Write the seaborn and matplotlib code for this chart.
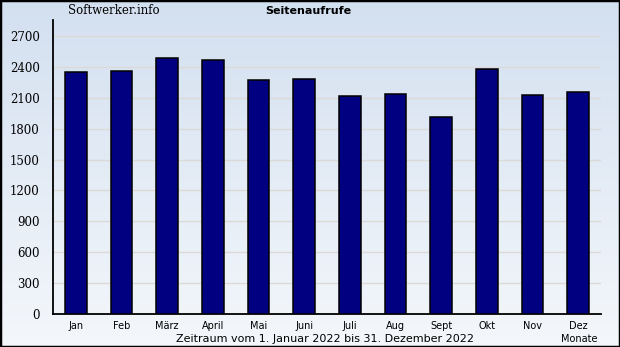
import numpy as np
import pandas as pd
import matplotlib
matplotlib.use("Agg")
import matplotlib.pyplot as plt
from matplotlib.patches import Rectangle
import seaborn as sns

months = ["Jan", "Feb", "März", "April", "Mai", "Juni", "Juli", "Aug", "Sept", "Okt", "Nov", "Dez"]
views = [2347, 2360, 2486, 2467, 2273, 2282, 2117, 2137, 1913, 2380, 2127, 2156]
yticks = [0, 300, 600, 900, 1200, 1500, 1800, 2100, 2400, 2700]

sns.set_style("white")
plt.rcParams["text.color"] = "black"
plt.rcParams["xtick.color"] = "black"
plt.rcParams["ytick.color"] = "black"
plt.rcParams["xtick.labelcolor"] = "black"
plt.rcParams["ytick.labelcolor"] = "black"
df = pd.DataFrame({"Monat": months, "Aufrufe": views})

fig = plt.figure(figsize=(6.2, 3.47), dpi=100)

# background gradient
bg = fig.add_axes([0, 0, 1, 1], zorder=-10)
grad = np.linspace(0, 1, 256).reshape(-1, 1)
top = np.array([211, 224, 240]) / 255
bot = np.array([244, 247, 251]) / 255
img = top[None, None, :] * (1 - grad[:, :, None]) + bot[None, None, :] * grad[:, :, None]
bg.imshow(img, aspect="auto", extent=[0, 1, 0, 1])
bg.set_axis_off()
fig.patches.append(Rectangle((0, 0), 1, 1, transform=fig.transFigure, fill=False,
                             edgecolor="black", linewidth=2.5, zorder=100))

ax = fig.add_axes([53 / 620, 1 - 314 / 347, 548 / 620, 294 / 347])
ax.patch.set_alpha(0)
sns.barplot(data=df, x="Monat", y="Aufrufe", ax=ax, color="#000080", saturation=1,
            edgecolor="black", linewidth=1.1, width=0.47, zorder=3)
ax.set_xlim(-0.5, 11.5)
ax.set_ylim(0, 2855)
ax.set_yticks(yticks)
ax.set_yticklabels([str(v) for v in yticks], family="DejaVu Serif", fontsize=8.5, color="black")
ax.set_yticks(np.arange(150, 2855, 300), minor=True)
ax.set_xticks(range(12))
ax.set_xticklabels(months, fontsize=7, family="DejaVu Sans", color="black")
ax.set_xticks(np.arange(0.5, 12, 1), minor=True)
ax.tick_params(axis="x", which="major", length=0, pad=5)
ax.tick_params(axis="x", which="minor", length=4, direction="in", width=1, color="black")
ax.tick_params(axis="y", which="both", length=6, direction="out", width=1, color="black")
ax.tick_params(axis="y", which="minor", length=4)
ax.set_xlabel("")
ax.set_ylabel("")
for v in yticks[1:]:
    ax.axhline(v, color="#dcdad6", linewidth=1, zorder=1)
for s in ["top", "right"]:
    ax.spines[s].set_visible(False)
for s in ["left", "bottom"]:
    ax.spines[s].set_color("black")
    ax.spines[s].set_linewidth(1.3)

fig.text(68 / 620, 1 - 11 / 347, "Softwerker.info", family="DejaVu Serif", fontsize=8.5,
         va="center", ha="left", color="black")
fig.text(308 / 620, 1 - 11 / 347, "Seitenaufrufe", fontsize=8, fontweight="bold",
         va="center", ha="center", color="black")
fig.text(325 / 620, 1 - 339 / 347, "Zeitraum vom 1. Januar 2022 bis 31. Dezember 2022",
         fontsize=8, va="center", ha="center", color="black")
fig.text(598 / 620, 1 - 339 / 347, "Monate", fontsize=7, va="center", ha="right", color="black")

fig.savefig("out.png", dpi=100)
